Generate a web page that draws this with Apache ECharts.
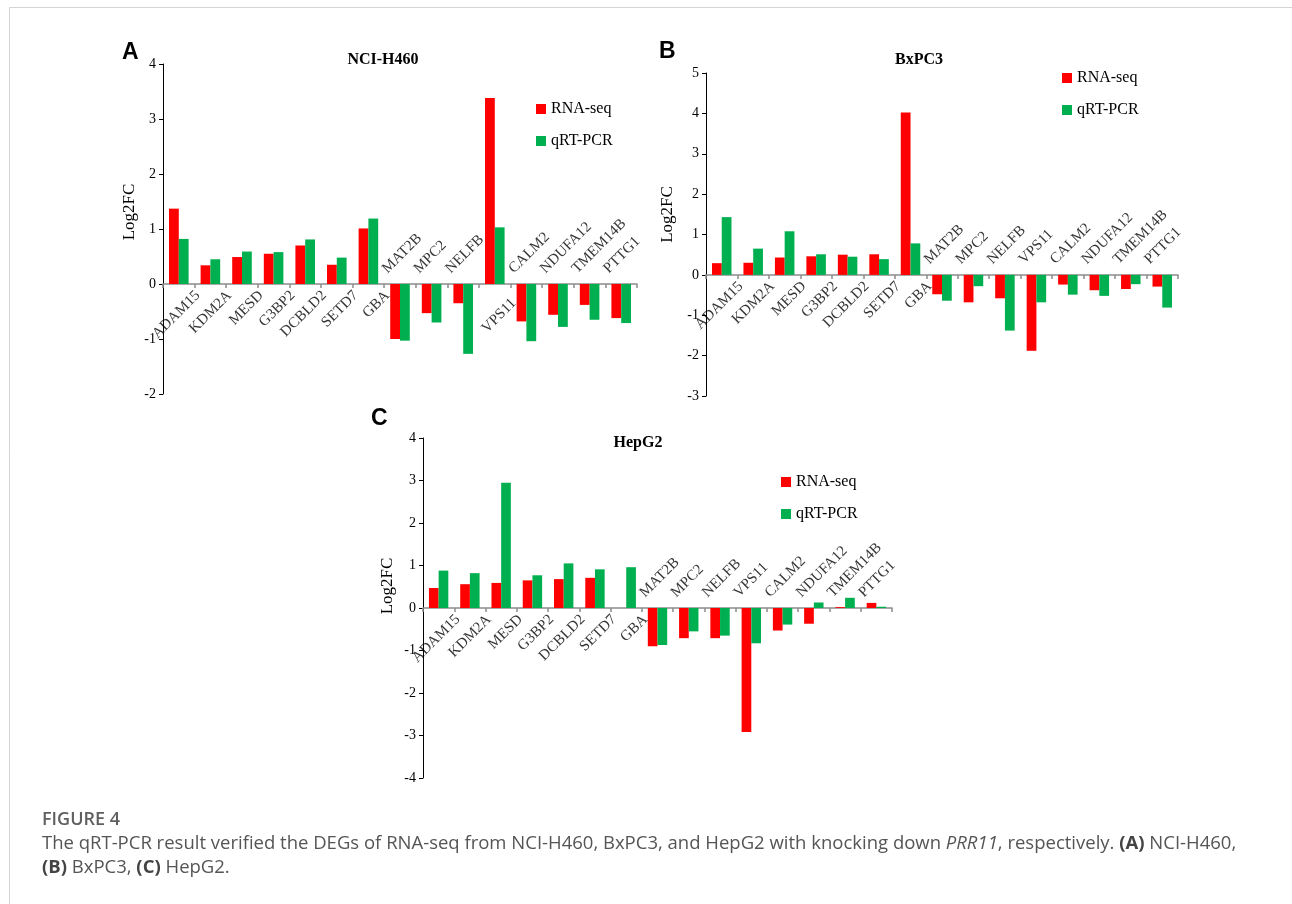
<!DOCTYPE html>
<html>
<head>
<meta charset="utf-8">
<script src="https://cdn.jsdelivr.net/npm/echarts@6/dist/echarts.min.js"></script>
<style>
html,body{margin:0;padding:0;background:#fff;}
#chart{width:1292px;height:904px;}
</style>
</head>
<body>
<div id="chart"></div>
<script>
// ---------------- data ----------------
const genes = ['ADAM15','KDM2A','MESD','G3BP2','DCBLD2','SETD7','GBA','MAT2B','MPC2','NELFB','VPS11','CALM2','NDUFA12','TMEM14B','PTTG1'];
const seriesNames = ['RNA-seq','qRT-PCR'];
const panelTitles = ['NCI-H460','BxPC3','HepG2'];
const panelLetters = ['A','B','C'];

const h460RnaSeq = [1.37,0.34,0.49,0.55,0.70,0.35,1.01,-1.00,-0.53,-0.35,3.38,-0.68,-0.56,-0.38,-0.62];
const h460QrtPcr = [0.82,0.45,0.59,0.58,0.81,0.48,1.19,-1.03,-0.70,-1.27,1.03,-1.04,-0.78,-0.65,-0.71];

const bxpc3RnaSeq = [0.29,0.30,0.43,0.46,0.50,0.51,4.02,-0.48,-0.68,-0.58,-1.88,-0.24,-0.38,-0.35,-0.29];
const bxpc3QrtPcr = [1.43,0.65,1.08,0.51,0.45,0.39,0.78,-0.64,-0.28,-1.38,-0.68,-0.49,-0.52,-0.23,-0.81];

const hepg2RnaSeq = [0.47,0.56,0.59,0.65,0.68,0.71,0,-0.90,-0.71,-0.71,-2.92,-0.53,-0.37,0.02,0.12];
const hepg2QrtPcr = [0.88,0.82,2.95,0.77,1.05,0.91,0.96,-0.87,-0.55,-0.65,-0.83,-0.39,0.13,0.24,0.03];

const yMins = [-2,-3,-4];
const yMaxs = [4,5,4];
// indices of gene labels drawn above the zero line in each panel
const labelsAboveH460 = [7,8,9,11,12,13,14];
const labelsAboveBxpc3 = [7,8,9,10,11,12,13,14];
const labelsAboveHepg2 = [7,8,9,10,11,12,13,14];

const captionTitle = 'FIGURE 4';

// ---------------- layout / style ----------------
const panelData = [[h460RnaSeq,h460QrtPcr],[bxpc3RnaSeq,bxpc3QrtPcr],[hepg2RnaSeq,hepg2QrtPcr]];
const aboveSets = [labelsAboveH460,labelsAboveBxpc3,labelsAboveHepg2];
const grids = [
  {left:163, top:64, width:474, height:330},
  {left:706, top:73, width:472, height:323},
  {left:423, top:438, width:469, height:340}
];
const nameGaps = [25,30,27];
const nameShift = [34,40,44];
const legendPos = [{left:531, top:96},{left:1057, top:65},{left:776, top:469}];
const titlePos = [[383,60],[919,60],[638,443]];
const letterPos = [[122,53],[659,52],[371,419]];
const colors = ['#FF0000','#00B050'];
const serif = 'Liberation Serif';
// label offsets are given in the rotated (45°) text frame
const belowOffset = [7, 20];
const belowOffsetLow = [1.5, 25.5];
const aboveOffset = [-1.5, -20];

const xAxes = [], yAxes = [], series = [], legends = [], graphics = [];
for (let p = 0; p < 3; p++) {
  const above = aboveSets[p];
  xAxes.push({
    type:'category', gridIndex:p, data:genes, position:'bottom',
    axisLine:{show:true, onZero:true, lineStyle:{color:'#8c8c8c', width:1.5}},
    axisTick:{show:true, interval:0, length:4, lineStyle:{color:'#8c8c8c', width:1.5}},
    axisLabel:{show:false, interval:0},
    splitLine:{show:false}
  });
  yAxes.push({
    type:'value', gridIndex:p, min:yMins[p], max:yMaxs[p], interval:1,
    name:'Log2FC', nameLocation:'middle', nameGap:nameGaps[p], nameRotate:90,
    nameTextStyle:{fontFamily:serif, fontSize:17, color:'#000', padding:[0,0,0,nameShift[p]]},
    axisLine:{show:true, lineStyle:{color:'#000', width:1}},
    axisTick:{show:true, length:4, lineStyle:{color:'#000'}},
    axisLabel:{fontFamily:serif, fontSize:14, color:'#000', margin:7},
    splitLine:{show:false}
  });
  for (let s = 0; s < 2; s++) {
    series.push({
      type:'bar', name:seriesNames[s], xAxisIndex:p, yAxisIndex:p,
      data:panelData[p][s], barGap:'0%', barCategoryGap:'38%',
      itemStyle:{color:colors[s]}, silent:true
    });
  }
  // gene name labels placed along the zero line
  series.push({
    type:'scatter', name:'gene labels', xAxisIndex:p, yAxisIndex:p,
    symbol:'circle', symbolSize:1, itemStyle:{color:'rgba(0,0,0,0)'}, silent:true, z:5,
    data:genes.map((g, i) => {
      const isAbove = above.includes(i);
      const low = (p === 0 && g === 'VPS11');
      return {
        value:[i, 0],
        label:{
          show:true, formatter:g, position:'inside', rotate:45,
          align: isAbove ? 'left' : 'right', verticalAlign:'middle',
          offset: isAbove ? aboveOffset : (low ? belowOffsetLow : belowOffset),
          fontFamily:serif, fontSize:15, color:'#000'
        }
      };
    })
  });
  legends.push({
    orient:'vertical', left:legendPos[p].left, top:legendPos[p].top,
    data:seriesNames, icon:'rect', itemWidth:10, itemHeight:10, itemGap:16,
    textStyle:{fontFamily:serif, fontSize:16, color:'#000', lineHeight:16},
    selectedMode:false
  });
  graphics.push({
    type:'text', x:titlePos[p][0], y:titlePos[p][1],
    style:{text:panelTitles[p], font:'bold 16px "Liberation Serif"', fill:'#000',
      align:'center', verticalAlign:'middle', textAlign:'center', textVerticalAlign:'middle'}
  });
  graphics.push({
    type:'text', x:letterPos[p][0], y:letterPos[p][1],
    style:{text:panelLetters[p], font:'bold 23px "Liberation Sans"', fill:'#000',
      align:'left', verticalAlign:'middle', textAlign:'left', textVerticalAlign:'middle'}
  });
}

// frame lines
graphics.push({type:'line', shape:{x1:9.5, y1:7.5, x2:1292, y2:7.5}, style:{stroke:'#d4d4d4', lineWidth:1}});
graphics.push({type:'line', shape:{x1:9.5, y1:7.5, x2:9.5, y2:904}, style:{stroke:'#d4d4d4', lineWidth:1}});

// caption
graphics.push({
  type:'text', x:42, y:820,
  style:{text:captionTitle, font:'600 18px "Open Sans"', fill:'#5f5f5f',
    align:'left', verticalAlign:'middle', textAlign:'left', textVerticalAlign:'middle'}
});
const capRich = {
  b:{fontFamily:'Open Sans', fontWeight:'bold', fontSize:18.5, fill:'#444', color:'#444'},
  i:{fontFamily:'Open Sans', fontStyle:'italic', fontSize:18.5, fill:'#555', color:'#555'}
};
graphics.push({
  type:'text', x:42, y:844,
  style:{text:'The qRT-PCR result verified the DEGs of RNA-seq from NCI-H460, BxPC3, and HepG2 with knocking down {i|PRR11}, respectively. {b|(A)} NCI-H460,',
    font:'18.5px "Open Sans"', fill:'#555', rich:capRich,
    align:'left', verticalAlign:'middle', textAlign:'left', textVerticalAlign:'middle'}
});
graphics.push({
  type:'text', x:42, y:868,
  style:{text:'{b|(B)} BxPC3, {b|(C)} HepG2.',
    font:'18.5px "Open Sans"', fill:'#555', rich:capRich,
    align:'left', verticalAlign:'middle', textAlign:'left', textVerticalAlign:'middle'}
});

const chart = echarts.init(document.getElementById('chart'), null, {renderer:'canvas'});
chart.setOption({
  animation:false,
  backgroundColor:'#fff',
  grid:grids,
  xAxis:xAxes,
  yAxis:yAxes,
  series:series,
  legend:legends,
  graphic:graphics
});
</script>
</body>
</html>
